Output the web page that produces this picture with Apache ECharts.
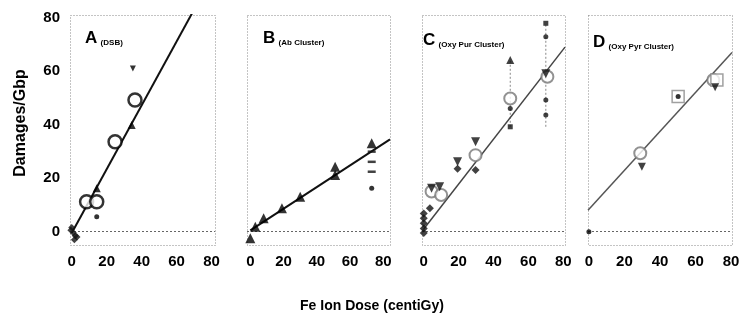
<!DOCTYPE html>
<html><head><meta charset="utf-8">
<script src="https://cdn.jsdelivr.net/npm/echarts@6/dist/echarts.min.js"></script>
<style>html,body{margin:0;padding:0;background:#fff}#c{width:746px;height:323px}</style>
</head><body><div id="c"></div>
<script>
// ---- tick labels / texts ----
const xTicks = [0, 20, 40, 60, 80];
const yTicks = [0, 20, 40, 60, 80];
const panelLetters = ['A', 'B', 'C', 'D'];
const panelSubs = ['(DSB)', '(Ab Cluster)', '(Oxy Pur Cluster)', '(Oxy Pyr Cluster)'];
const yName = 'Damages/Gbp';
const xName = 'Fe Ion Dose (centiGy)';

// ---- Panel A (DSB) ----
const aCircles = [[8.5, 11.2], [14.3, 11.2], [24.8, 33.6], [36.2, 49.2]];
const aTriangles = [[14.3, 16.2], [34.3, 39.9]];
const aTriDown = [[35, 61]];
const aDots = [[14.3, 5.6]];
const aZero = [[0, 1.5], [1, -0.5], [2, -1.5], [3, -2], [-0.5, 0.5], [1.5, -3]];
const aFitX = [0, 70];
const aFitY = [-0.5, 83];

// ---- Panel B (Ab Cluster) ----
const bTriangles = [[0, -2.5], [3, 1.8], [8, 5], [19, 8.7], [30, 13], [51, 24.3], [51, 21.2], [73, 33]];
const bDashes = [[73, 29.9], [73, 26.1], [73, 22.4]];
const bDots = [[73, 16.2]];
const bFitX = [0, 84];
const bFitY = [0.5, 34.5];

// ---- Panel C (Oxy Pur Cluster) ----
const cZero = [[0, 6.8], [0, 5], [0, 3.1], [0, 1.2], [0, -0.5], [3.5, 8.7]];
const cTriDown = [[4.5, 16.2], [9.1, 16.8], [19.4, 26.1], [29.7, 33.6], [70, 59]];
const cCircles = [[4.5, 15], [10, 13.7], [29.7, 28.6], [49.6, 49.8], [70.9, 57.9]];
const cDiamonds = [[29.7, 23], [19.4, 23.5]];
const cTriUp = [[49.6, 64.2]];
const cDots = [[49.6, 46], [70, 72.9], [70, 49.2], [70, 43.6]];
const cSquares = [[49.6, 39.2], [70, 77.9]];
const cErrX = [49.6, 70];
const cErrLow = [39.2, 39.2];
const cErrHigh = [64.2, 77.9];
const cFitX = [0, 81];
const cFitY = [1, 69];

// ---- Panel D (Oxy Pyr Cluster) ----
const dDots = [[0, 0], [50.2, 50.5]];
const dCircles = [[28.9, 29.3], [70, 56.7]];
const dTriDown = [[29.8, 24.3], [71, 54]];
const dSquares = [[50.2, 50.5], [72, 56.7]];
const dFitX = [-0.5, 80.5];
const dFitY = [8, 67];

// ---- layout ----
const FONT = '"Liberation Sans", Arial, sans-serif';
const boxes = [
  {left: 70, width: 145, xmin: -1, xmax: 82},
  {left: 247, width: 143, xmin: -2, xmax: 84},
  {left: 422, width: 143, xmin: -1, xmax: 81},
  {left: 588, width: 144, xmin: -0.5, xmax: 80.5}
];
const TOP = 15, HEIGHT = 230, YMIN = -5, YMAX = 81;

const grids = boxes.map(b => ({left: b.left, top: TOP, width: b.width, height: HEIGHT, containLabel: false}));
const xAxes = boxes.map((b, i) => ({
  type: 'value', gridIndex: i, min: b.xmin, max: b.xmax,
  axisLine: {show: false}, axisTick: {show: false}, splitLine: {show: false},
  axisLabel: {customValues: xTicks, color: '#000', fontFamily: FONT, fontWeight: 'bold', fontSize: 15, margin: 9}
}));
const yAxes = boxes.map((b, i) => ({
  type: 'value', gridIndex: i, min: YMIN, max: YMAX,
  axisLine: {show: false}, axisTick: {show: false}, splitLine: {show: false},
  axisLabel: {show: i === 0, customValues: yTicks, color: '#000', fontFamily: FONT, fontWeight: 'bold', fontSize: 15, margin: 10}
}));

function sc(i, data, symbol, size, fill, stroke, bw) {
  return {type: 'scatter', xAxisIndex: i, yAxisIndex: i, data: data, symbol: symbol, symbolSize: size,
    clip: false, silent: true, z: 5,
    itemStyle: {color: fill, borderColor: stroke || fill, borderWidth: bw || 0}};
}
function fit(i, xs, ys, color, width) {
  return {type: 'line', xAxisIndex: i, yAxisIndex: i, data: xs.map((x, k) => [x, ys[k]]),
    symbol: 'none', silent: true, z: 3, clip: true,
    lineStyle: {color: color, width: width},
    markLine: {silent: true, symbol: 'none', label: {show: false},
      lineStyle: {type: [2, 2], color: '#666', width: 1}, data: [{yAxis: 0}]}};
}
const triDown = 'path://M0,0 L10,0 L5,9 Z';

const series = [
  fit(0, aFitX, aFitY, '#111', 2),
  sc(0, aCircles, 'circle', 13, '#fff', '#000', 2.5),
  sc(0, aTriangles, 'triangle', 8, '#000'),
  sc(0, aTriDown, triDown, 6, '#000'),
  sc(0, aDots, 'circle', 5, '#000'),
  sc(0, aZero, 'diamond', 7, '#111'),

  fit(1, bFitX, bFitY, '#111', 2),
  sc(1, bTriangles, 'triangle', 10, '#000'),
  sc(1, bDashes, 'rect', [8, 2.5], '#111'),
  sc(1, bDots, 'circle', 5, '#000'),

  fit(2, cFitX, cFitY, '#444', 1.5),
  {type: 'custom', xAxisIndex: 2, yAxisIndex: 2, silent: true, z: 2,
   data: cErrX.map((x, k) => [x, cErrLow[k], cErrHigh[k]]),
   encode: {x: 0, y: [1, 2]},
   renderItem: function (params, api) {
     const p1 = api.coord([api.value(0), api.value(1)]);
     const p2 = api.coord([api.value(0), api.value(2)]);
     return {type: 'line', shape: {x1: p1[0], y1: p1[1], x2: p2[0], y2: p2[1]},
       style: {stroke: '#888', lineWidth: 1, lineDash: [2, 2]}};
   }},
  sc(2, cZero, 'diamond', 8, '#111'),
  sc(2, cCircles, 'circle', 12, '#fff', '#777', 2),
  sc(2, cTriDown, triDown, 9, '#111'),
  sc(2, cDiamonds, 'diamond', 8, '#111'),
  sc(2, cTriUp, 'triangle', 8, '#111'),
  sc(2, cDots, 'circle', 5, '#111'),
  sc(2, cSquares, 'rect', 5, '#111'),

  fit(3, dFitX, dFitY, '#555', 1.5),
  sc(3, dCircles, 'circle', 12, '#fff', '#777', 2),
  sc(3, dSquares, 'rect', 12, '#fff', '#888', 1.5),
  sc(3, dTriDown, triDown, 8, '#111'),
  sc(3, dDots, 'circle', 5, '#000')
];

const titlePos = [[85, 39], [263, 39], [423, 41], [593, 43]];
const graphics = [];
boxes.forEach((b, i) => {
  graphics.push({type: 'rect', silent: true, z: 1,
    shape: {x: b.left + 0.5, y: TOP + 0.5, width: b.width, height: HEIGHT},
    style: {fill: 'none', stroke: '#888', lineWidth: 1, lineDash: [1, 2]}});
  graphics.push({type: 'text', silent: true, z: 10, left: titlePos[i][0], top: titlePos[i][1] - 9,
    style: {text: '{a|' + panelLetters[i] + '} {b|' + panelSubs[i] + '}',
      rich: {a: {fontFamily: FONT, fontWeight: 'bold', fontSize: 17, fill: '#000', verticalAlign: 'bottom'},
             b: {fontFamily: FONT, fontWeight: 'bold', fontSize: 8, fill: '#000', verticalAlign: 'bottom'}}}});
});
graphics.push({type: 'text', silent: true, x: 21, y: 123, rotation: Math.PI / 2,
  style: {text: yName, fontFamily: FONT, fontWeight: 'bold', fontSize: 16, fill: '#000', align: 'center', verticalAlign: 'middle'}});
graphics.push({type: 'text', silent: true, x: 372, y: 306,
  style: {text: xName, fontFamily: FONT, fontWeight: 'bold', fontSize: 14, fill: '#000', align: 'center', verticalAlign: 'middle'}});

const chart = echarts.init(document.getElementById('c'), null, {renderer: 'canvas'});
chart.setOption({
  backgroundColor: '#fff', animation: false,
  grid: grids, xAxis: xAxes, yAxis: yAxes, series: series, graphic: graphics
});
</script></body></html>
